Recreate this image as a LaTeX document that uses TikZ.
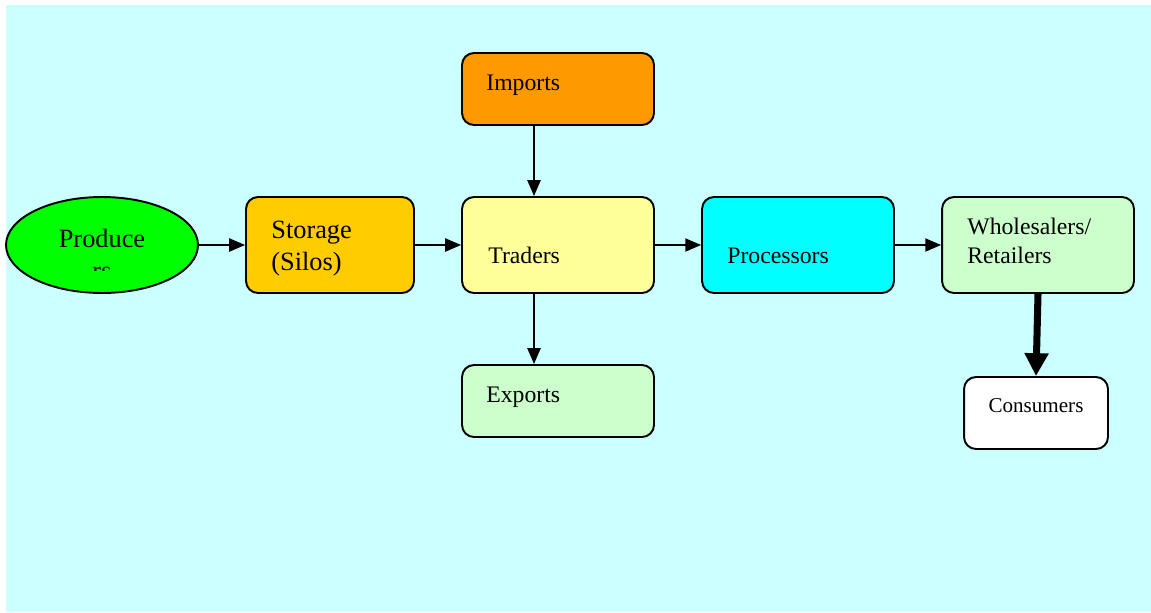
\documentclass[tikz,border=0pt]{standalone}
\usepackage{fontspec}
\setmainfont{Liberation Serif}
\usepackage{tikz}
\usetikzlibrary{shapes.geometric,arrows.meta}
\definecolor{skybg}{HTML}{CCFFFF}
\definecolor{producegreen}{HTML}{00FF00}
\definecolor{storagegold}{HTML}{FFCC00}
\definecolor{importorange}{HTML}{FF9900}
\definecolor{traderyellow}{HTML}{FFFF99}
\definecolor{processcyan}{HTML}{00FFFF}
\definecolor{palegreen}{HTML}{CCFFCC}
\tikzset{
  stage/.style={draw, line width=1.1pt, rounded corners=0.24cm, inner sep=0pt, minimum width=3.84cm, minimum height=1.92cm},
  sidebox/.style={stage, minimum height=1.44cm},
  farm/.style={draw, ellipse, line width=1.1pt, inner sep=0pt, minimum width=3.84cm, minimum height=1.92cm, fill=producegreen},
  txt/.style={inner sep=0pt, anchor=base west, align=left, font=\fontsize{13.5}{16}\selectfont},
  bigtxt/.style={txt, font=\fontsize{15}{18.2}\selectfont},
  arrow/.style={-{Triangle[length=9pt, width=7.5pt]}, line width=0.85pt},
  heavy/.style={-{Triangle[length=13pt, width=13pt]}, line width=4pt}
}
\begin{document}
\begin{tikzpicture}[x=0.02cm, y=-0.02cm]
  \useasboundingbox (0,0) rectangle (1151,612);
  \fill[skybg] (6,5) rectangle (1151,612);

  \node[farm] (producers) at (102,245) {};
  \node[stage, fill=storagegold, minimum width=3.36cm] (storage) at (330,245) {};
  \node[sidebox, fill=importorange] (imports) at (558,89) {};
  \node[stage, fill=traderyellow] (traders) at (558,245) {};
  \node[sidebox, fill=palegreen] (exports) at (558,401) {};
  \node[stage, fill=processcyan] (processors) at (798,245) {};
  \node[stage, fill=palegreen] (wholesalers) at (1038,245) {};
  \node[sidebox, fill=white, minimum width=2.88cm] (consumers) at (1036,413) {};

  \begin{scope}
    \clip (6,197) rectangle (198,270);
    \node[bigtxt, anchor=base, align=center] (producerslbl) at (102,279) {Produce\\rs};
  \end{scope}
  \node[bigtxt] (storagelbl) at (271,270) {Storage\\(Silos)};
  \node[txt] (importslbl) at (486,90.5) {Imports};
  \node[txt] (traderslbl) at (488,263) {Traders};
  \node[txt] (exportslbl) at (486,402.5) {Exports};
  \node[txt] (processorslbl) at (727,263) {Processors};
  \node[txt] (wholesalerslbl) at (967,263) {Wholesalers/\\Retailers};
  \node[txt, anchor=base, font=\fontsize{12}{14}\selectfont] (consumerslbl) at (1036,412) {Consumers};

  \draw[arrow] (producers) -- (storage);
  \draw[arrow] (storage) -- (traders);
  \draw[arrow] (traders) -- (processors);
  \draw[arrow] (processors) -- (wholesalers);
  \draw[arrow] ([xshift=-0.48cm]imports.south) -- ([xshift=-0.48cm]traders.north);
  \draw[arrow] ([xshift=-0.48cm]traders.south) -- ([xshift=-0.48cm]exports.north);
  \draw[heavy] (wholesalers.south) -- (consumers.north);
\end{tikzpicture}
\end{document}
